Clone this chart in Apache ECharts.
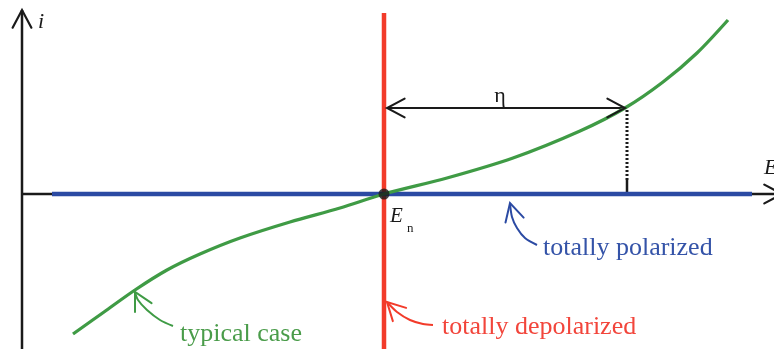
<!DOCTYPE html>
<html>
<head>
<meta charset="utf-8">
<script src="https://cdn.jsdelivr.net/npm/echarts@6/dist/echarts.min.js"></script>
<style>
html, body { margin: 0; padding: 0; background: #fff; }
#chart { width: 774px; height: 349px; }
</style>
</head>
<body>
<div id="chart"></div>
<script>
// x: potential measured from E_n, y: current i (plot units)
var curveE = [-311, -280, -249, -217, -184, -144, -94, -44, 0, 63, 129, 196, 241, 279, 313, 344];
var curveI = [-140, -118, -96, -76, -60, -44, -28, -14, 0, 16, 36, 63, 86, 112, 141, 174];

var etaValue = 243;    // E - E_n at the marked point
var etaCurrent = 86;   // current there
var dotLimit = 14;     // where the dotted drop turns solid

// extents of the axes and the two limiting cases
var axisStart = -362;
var axisEnd = 398;
var iTop = 184;
var iBottom = -160;
var polarizedFrom = -332;
var polarizedTo = 368;
var depolarizedTop = 181;

// pointer curves to the labels
var polarizedPtrE = [126, 128, 133, 141, 153];
var polarizedPtrI = [-9, -23, -34, -44, -51];
var typicalPtrE = [-249, -246, -237, -224, -211];
var typicalPtrI = [-98, -106, -116, -126, -132];
var depolarizedPtrE = [3, 13, 26, 39, 49];
var depolarizedPtrI = [-108, -118, -126, -130, -131];

// arrow heads: [x, y, direction in degrees]
var axisHeads = [[axisStart, iTop, 90], [axisEnd, 0, 0]];
var etaHeads = [[3, etaCurrent, 180], [etaValue - 2, etaCurrent, 0]];
var polarizedHead = [[126, -9, 105]];
var typicalHead = [[-249, -98, 118]];
var depolarizedHead = [[3, -108, 135]];

// labels
var labelText = ['i', 'E', 'η', 'E', 'n', 'totally polarized', 'typical case', 'totally depolarized'];
var labelE = [-346, 380, 116, 6, 23, 159, -204, 58];
var labelI = [172, 26, 98, -22, -35, -54, -140, -133];

var BLACK = '#1a1a1a';
var BLUE = '#2b4aa3';
var RED = '#f23b2a';
var GREEN = '#3f9b45';
var SERIF = '"Liberation Serif", "DejaVu Serif", serif';

var labelStyle = [
    { fill: BLACK, fontSize: 22, fontStyle: 'italic', align: 'left' },
    { fill: BLACK, fontSize: 22, fontStyle: 'italic', align: 'left' },
    { fill: BLACK, fontSize: 22, fontStyle: 'normal', align: 'center' },
    { fill: BLACK, fontSize: 21, fontStyle: 'italic', align: 'left' },
    { fill: BLACK, fontSize: 13, fontStyle: 'normal', align: 'left' },
    { fill: '#3453a8', fontSize: 26, fontStyle: 'normal', align: 'left' },
    { fill: '#4a9c4a', fontSize: 26, fontStyle: 'normal', align: 'left' },
    { fill: '#f2453b', fontSize: 26, fontStyle: 'normal', align: 'left' }
];

function zip(xs, ys) {
    return xs.map(function (x, k) { return [x, ys[k]]; });
}

function segment(data, color, width, type, z) {
    return {
        type: 'line',
        data: data,
        symbol: 'none',
        smooth: false,
        z: z || 2,
        lineStyle: { color: color, width: width, type: type || 'solid' }
    };
}

function curve(data, color, width, z) {
    var s = segment(data, color, width, 'solid', z);
    s.smooth = 0.3;
    return s;
}

function heads(data, color, width) {
    return {
        type: 'custom',
        data: data,
        z: 5,
        renderItem: function (params, api) {
            var p = api.coord([api.value(0), api.value(1)]);
            var a = api.value(2) * Math.PI / 180;
            var len = 20, spread = 28 * Math.PI / 180;
            var pts = [];
            [-spread, spread].forEach(function (d) {
                var b = a + Math.PI + d;
                pts.push([p[0] + len * Math.cos(b), p[1] - len * Math.sin(b)]);
            });
            return {
                type: 'polyline',
                shape: { points: [pts[0], p, pts[1]] },
                style: { stroke: color, lineWidth: width, fill: null, lineCap: 'round', lineJoin: 'miter' }
            };
        }
    };
}

var myChart = echarts.init(document.getElementById('chart'));

var option = {
    animation: false,
    backgroundColor: '#fff',
    grid: { left: 0, right: 0, top: 0, bottom: 0 },
    xAxis: { type: 'value', min: -384, max: 390, show: false },
    yAxis: { type: 'value', min: -155, max: 194, show: false },
    series: [
        segment([[axisStart, iBottom], [axisStart, iTop]], BLACK, 2.5),
        segment([[axisStart, 0], [axisEnd, 0]], BLACK, 2.5),
        segment([[0, iBottom], [0, depolarizedTop]], RED, 4.5, 'solid', 3),
        segment([[polarizedFrom, 0], [polarizedTo, 0]], BLUE, 4.5, 'solid', 3),
        curve(zip(curveE, curveI), GREEN, 3.3, 4),
        segment([[3, etaCurrent], [etaValue - 2, etaCurrent]], BLACK, 2.2),
        segment([[etaValue, etaCurrent - 2], [etaValue, dotLimit]], BLACK, 3, [2, 2]),
        segment([[etaValue, dotLimit], [etaValue, 0]], BLACK, 2.5),
        curve(zip(polarizedPtrE, polarizedPtrI), BLUE, 2),
        curve(zip(typicalPtrE, typicalPtrI), GREEN, 2),
        curve(zip(depolarizedPtrE, depolarizedPtrI), RED, 2),
        heads(axisHeads, BLACK, 2.2),
        heads(etaHeads, BLACK, 2),
        heads(polarizedHead, BLUE, 2),
        heads(typicalHead, GREEN, 2),
        heads(depolarizedHead, RED, 2),
        {
            type: 'scatter',
            data: [[0, 0]],
            symbolSize: 11,
            z: 6,
            itemStyle: { color: BLACK }
        },
        {
            type: 'custom',
            data: zip(labelE, labelI),
            z: 7,
            renderItem: function (params, api) {
                var p = api.coord([api.value(0), api.value(1)]);
                var st = labelStyle[params.dataIndex];
                return {
                    type: 'text',
                    x: p[0],
                    y: p[1],
                    style: {
                        text: labelText[params.dataIndex],
                        fill: st.fill,
                        fontSize: st.fontSize,
                        fontStyle: st.fontStyle,
                        fontFamily: SERIF,
                        align: st.align,
                        verticalAlign: 'middle'
                    }
                };
            }
        }
    ]
};

myChart.setOption(option);
</script>
</body>
</html>
